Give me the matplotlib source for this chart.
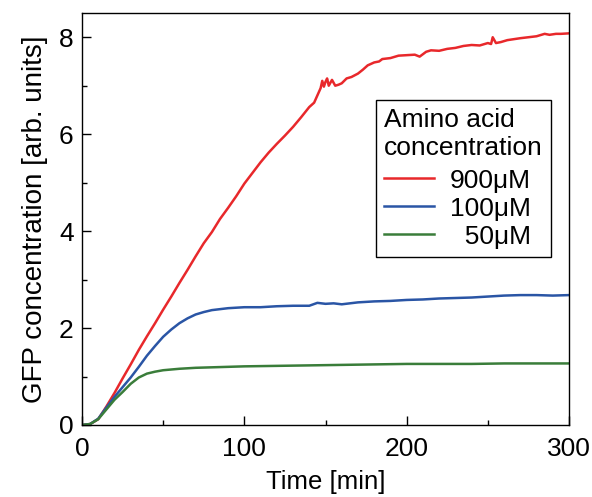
import matplotlib
matplotlib.use("Agg")
import matplotlib.pyplot as plt
from matplotlib.ticker import MultipleLocator

plt.rcParams['font.family'] = ['Liberation Sans', 'DejaVu Sans']

t_red = [0, 5, 10, 15, 20, 25, 30, 35, 40, 45, 50, 55, 60, 65, 70, 75, 80, 85, 90, 95,
         100, 105, 110, 115, 120, 125, 130, 135, 140, 143, 145, 147, 148, 149, 150, 151,
         152, 154, 156, 158, 160, 163, 166, 170, 173, 176, 180, 183, 185, 190, 195, 200,
         205, 208, 212, 215, 220, 225, 230, 235, 240, 245, 250, 252, 253, 255, 258, 262,
         266, 270, 275, 280, 285, 288, 292, 295, 300]
y_red = [0, 0.02, 0.12, 0.38, 0.66, 0.96, 1.25, 1.55, 1.83, 2.1, 2.38, 2.65, 2.93, 3.2,
         3.48, 3.75, 3.98, 4.25, 4.48, 4.72, 4.98, 5.2, 5.42, 5.62, 5.8, 5.97, 6.15, 6.35,
         6.56, 6.65, 6.8, 6.95, 7.1, 6.98, 7.08, 7.15, 7.0, 7.12, 7.0, 7.02, 7.05, 7.15,
         7.18, 7.25, 7.33, 7.42, 7.48, 7.5, 7.55, 7.57, 7.62, 7.63, 7.64, 7.6, 7.7, 7.73,
         7.72, 7.76, 7.78, 7.82, 7.84, 7.83, 7.88, 7.86, 8.0, 7.88, 7.9, 7.94, 7.96, 7.98,
         8.0, 8.02, 8.07, 8.05, 8.07, 8.07, 8.08]

t_blue = [0, 5, 10, 15, 20, 25, 30, 35, 40, 45, 50, 55, 60, 65, 70, 75, 80, 85, 90, 95,
          100, 110, 120, 130, 140, 145, 150, 155, 160, 170, 180, 190, 200, 210, 220, 230,
          240, 250, 260, 270, 280, 290, 300]
y_blue = [0, 0.02, 0.13, 0.36, 0.58, 0.78, 0.98, 1.2, 1.43, 1.63, 1.82, 1.97, 2.1, 2.2,
          2.28, 2.33, 2.37, 2.39, 2.41, 2.42, 2.43, 2.43, 2.45, 2.46, 2.46, 2.52, 2.5, 2.51,
          2.49, 2.53, 2.55, 2.56, 2.58, 2.59, 2.61, 2.62, 2.63, 2.65, 2.67, 2.68, 2.68, 2.67,
          2.68]

t_green = [0, 5, 10, 15, 20, 25, 30, 35, 40, 45, 50, 60, 70, 80, 90, 100, 120, 140, 160,
           180, 200, 220, 240, 260, 280, 300]
y_green = [0, 0.02, 0.12, 0.32, 0.52, 0.68, 0.85, 0.98, 1.06, 1.1, 1.13, 1.16, 1.18, 1.19,
           1.2, 1.21, 1.22, 1.23, 1.24, 1.25, 1.26, 1.26, 1.26, 1.27, 1.27, 1.27]

labels = ["900μM", "100μM", "  50μM"]
colors = ["#e8282b", "#2a55a5", "#3a7d3a"]

fig = plt.figure(figsize=(5.92, 4.97), dpi=100)
ax = fig.add_axes([82/592, 72/497, 487/592, 412/497])

for t, y, lab, c in zip([t_red, t_blue, t_green], [y_red, y_blue, y_green], labels, colors):
    ax.plot(t, y, color=c, lw=1.8, label=lab)

ax.set_xlim(0, 300)
ax.set_ylim(0, 8.5)
ax.xaxis.set_major_locator(MultipleLocator(100))
ax.xaxis.set_minor_locator(MultipleLocator(50))
ax.yaxis.set_major_locator(MultipleLocator(2))
ax.yaxis.set_minor_locator(MultipleLocator(1))
ax.tick_params(which='both', direction='in', top=False, right=False, labelsize=19)
ax.tick_params(axis='x', pad=9)
ax.tick_params(axis='y', pad=6)
ax.tick_params(which='major', length=6.5, width=1)
ax.tick_params(which='minor', length=3.5, width=1)
for s in ax.spines.values():
    s.set_linewidth(1)
ax.set_xlabel("Time [min]", fontsize=18.5, labelpad=6)
ax.set_ylabel("GFP concentration [arb. units]", fontsize=20, labelpad=8)

leg = ax.legend(title="Amino acid\nconcentration", loc='upper left',
                bbox_to_anchor=(0.604, 0.789), borderaxespad=0, fontsize=19,
                title_fontsize=19, fancybox=False, edgecolor='black',
                handlelength=1.9, labelspacing=0.15, borderpad=0.3,
                handletextpad=0.6, framealpha=1)
leg.get_frame().set_linewidth(1)
leg._legend_box.align = "left"
leg._legend_box.sep = 6.5

fig.savefig("out.png", dpi=100)
